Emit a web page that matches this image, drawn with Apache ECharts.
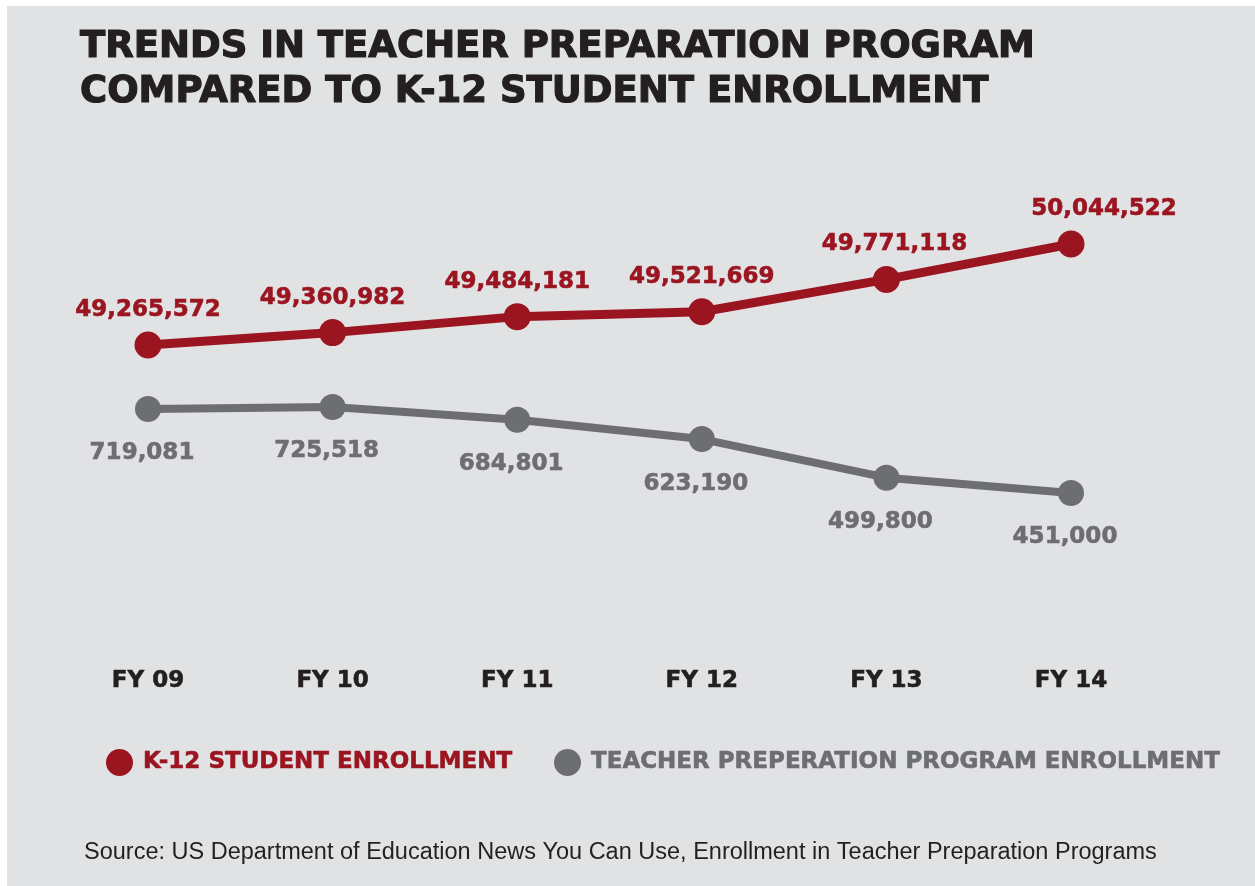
<!DOCTYPE html>
<html>
<head>
<meta charset="utf-8">
<title>Teacher preparation vs K-12 enrollment</title>
<script src="https://cdn.jsdelivr.net/npm/echarts@6/dist/echarts.min.js"></script>
<style>
    html, body { margin: 0; padding: 0; background: #ffffff; }
    #enrollment-trend {
        position: absolute;
        left: 7px;
        top: 6px;
        width: 1248px;
        height: 880px;
    }
</style>
</head>
<body>
<div id="enrollment-trend"></div>
<script>
    var years = ['FY 09', 'FY 10', 'FY 11', 'FY 12', 'FY 13', 'FY 14'];
    var k12Enrollment = [49265572, 49360982, 49484181, 49521669, 49771118, 50044522];
    var teacherPrepEnrollment = [719081, 725518, 684801, 623190, 499800, 451000];

    var RED = '#9b1521';
    var GRAY = '#6d6e71';
    var INK = '#231f20';
    var BOLD = '"DejaVu Sans", sans-serif';

    var trendChart;

    function fmt(v) {
        return v.toLocaleString('en-US');
    }

    function trend_chart(id) {
        trendChart = echarts.init(document.getElementById(id));

        // last red label sits off to the right of its point in the original
        var redData = k12Enrollment.map(function (v, i) {
            var item = { value: v };
            if (i === 4) item.label = { offset: [8, 0] };
            if (i === 5) item.label = { offset: [33, 0] };
            return item;
        });

        var option = {
            backgroundColor: '#e1e2e4',
            animation: false,
            title: {
                text: 'TRENDS IN TEACHER PREPARATION PROGRAM\nCOMPARED TO K-12 STUDENT ENROLLMENT',
                left: 73,
                top: 19,
                padding: 0,
                textStyle: {
                    fontFamily: BOLD,
                    fontWeight: 'bold',
                    fontSize: 37,
                    lineHeight: 45,
                    color: INK,
                    textBorderColor: INK,
                    textBorderWidth: 1.2
                }
            },
            legend: [
                {
                    data: ['K-12 STUDENT ENROLLMENT'],
                    left: 99,
                    top: 743,
                    padding: 0,
                    icon: 'circle',
                    itemWidth: 27,
                    itemHeight: 27,
                    textStyle: {
                        fontFamily: BOLD,
                        fontWeight: 'bold',
                        fontSize: 23,
                        color: RED,
                        textBorderColor: RED,
                        textBorderWidth: 0.6,
                        padding: [0, 0, 0, 5]
                    }
                },
                {
                    data: ['TEACHER PREPERATION PROGRAM ENROLLMENT'],
                    left: 547,
                    top: 743,
                    padding: 0,
                    icon: 'circle',
                    itemWidth: 27,
                    itemHeight: 27,
                    textStyle: {
                        fontFamily: BOLD,
                        fontWeight: 'bold',
                        fontSize: 23,
                        color: GRAY,
                        textBorderColor: GRAY,
                        textBorderWidth: 0.6,
                        padding: [0, 0, 0, 5]
                    }
                }
            ],
            graphic: [
                {
                    type: 'text',
                    left: 77,
                    top: 835,
                    style: {
                        text: 'Source: US Department of Education News You Can Use, Enrollment in Teacher Preparation Programs',
                        font: '23.5px "Liberation Sans", Arial, sans-serif',
                        fill: INK
                    }
                }
            ],
            grid: {
                left: 141,
                right: 184,
                top: 150,
                bottom: 230
            },
            xAxis: {
                type: 'category',
                boundaryGap: false,
                data: years,
                axisLine: { show: false },
                axisTick: { show: false },
                splitLine: { show: false },
                axisLabel: {
                    margin: 14,
                    fontFamily: BOLD,
                    fontWeight: 'bold',
                    fontSize: 23,
                    color: INK,
                    textBorderColor: INK,
                    textBorderWidth: 0.6
                }
            },
            yAxis: [
                {
                    type: 'value',
                    show: false,
                    min: 46867000,
                    max: 50723000,
                    splitLine: { show: false }
                },
                {
                    type: 'value',
                    show: false,
                    min: -69200,
                    max: 1526500,
                    splitLine: { show: false }
                }
            ],
            series: [
                {
                    name: 'K-12 STUDENT ENROLLMENT',
                    type: 'line',
                    yAxisIndex: 0,
                    data: redData,
                    symbol: 'circle',
                    symbolSize: 27,
                    color: RED,
                    lineStyle: { color: RED, width: 9 },
                    itemStyle: { color: RED },
                    label: {
                        show: true,
                        position: 'top',
                        distance: 10,
                        formatter: function (p) { return fmt(p.value); },
                        fontFamily: BOLD,
                        fontWeight: 'bold',
                        fontSize: 23,
                        color: RED,
                        textBorderColor: RED,
                        textBorderWidth: 0.6
                    },
                    z: 3
                },
                {
                    name: 'TEACHER PREPERATION PROGRAM ENROLLMENT',
                    type: 'line',
                    yAxisIndex: 1,
                    data: teacherPrepEnrollment,
                    symbol: 'circle',
                    symbolSize: 26,
                    color: GRAY,
                    lineStyle: { color: GRAY, width: 8 },
                    itemStyle: { color: GRAY },
                    label: {
                        show: true,
                        position: 'bottom',
                        distance: 20,
                        offset: [-6, 0],
                        formatter: function (p) { return fmt(p.value); },
                        fontFamily: BOLD,
                        fontWeight: 'bold',
                        fontSize: 23,
                        color: GRAY,
                        textBorderColor: GRAY,
                        textBorderWidth: 0.6
                    }
                }
            ]
        };
        trendChart.setOption(option);
    }

    trend_chart('enrollment-trend');

    window.addEventListener('resize', function () {
        trendChart.resize();
    });
</script>
</body>
</html>
